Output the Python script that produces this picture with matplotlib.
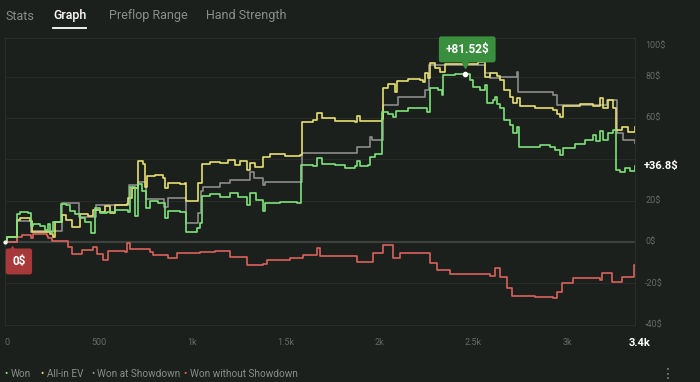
import matplotlib.pyplot as plt
from matplotlib.transforms import offset_copy

plt.rcParams['font.family'] = ['Roboto', 'DejaVu Sans']

# hands played vs. profit in $
won_x = [0, 11, 64, 80, 123, 139, 149, 187, 213, 229, 240, 256, 299, 325, 347, 374, 400, 427, 459, 480,
         507, 544, 587, 656, 667, 694, 710, 731, 752, 774, 816, 854, 870, 934, 966, 1024, 1040, 1051, 1094,
         1147, 1201, 1243, 1291, 1307, 1339, 1377, 1387, 1467, 1558, 1579, 1643, 1665, 1691, 1761, 1814,
         1868, 1878, 1894, 1937, 1948, 1974, 2012, 2044, 2070, 2086, 2150, 2214, 2252, 2268, 2310, 2332,
         2337, 2401, 2455, 2471, 2481, 2497, 2535, 2561, 2572, 2604, 2614, 2625, 2641, 2663, 2695, 2710,
         2732, 2743, 2801, 2855, 2908, 2935, 2961, 2977, 3041, 3095, 3138, 3153, 3175, 3191, 3217, 3244,
         3260, 3282, 3308, 3334, 3361]
won_y = [0, 2.2, 13.6, 14.3, 14.0, 7.7, 8.5, 7.7, 5.8, 8.7, 4.8, 9.7, 18.4, 17.9, 15.0, 13.6, 11.6, 9.7, 4.4, 16.5,
         14.0, 14.5, 15.5, 14.5, 26.6, 12.6, 28.1, 24.7, 16.5, 19.9, 18.9, 11.6, 15.0, 14.5, 4.8, 6.8, 9.2, 22.3, 23.2,
         21.8, 23.7, 21.8, 17.9, 23.7, 20.3, 15.0, 18.9, 19.4, 18.9, 37.3, 36.8, 40.7, 37.8, 37.3, 35.8,
         36.8, 39.2, 36.8, 37.3, 41.2, 42.6, 63.0, 62.0, 60.5, 63.4, 64.9, 64.9, 63.0, 74.6, 73.6, 71.2,
         80.9, 81.3, 81.52, 81.2, 78.5, 75.1, 73.6, 76.0, 67.3, 68.8, 70.2, 66.8, 64.9, 59.1, 56.7, 52.8,
         55.7, 46.0, 46.0, 47.0, 46.0, 44.6, 42.1, 45.5, 47.5, 49.4, 51.8, 48.9, 53.8, 49.4, 52.8, 54.2,
         34.9, 33.9, 35.8, 34.4, 36.8]

ev_x = [0, 11, 64, 80, 133, 144, 240, 256, 267, 304, 325, 358, 400, 443, 470, 507, 534, 560, 587, 651, 656,
        678, 710, 736, 747, 758, 800, 843, 854, 870, 934, 960, 966, 1024, 1030, 1051, 1094, 1147, 1190, 1227,
        1254, 1291, 1307, 1334, 1377, 1414, 1494, 1574, 1585, 1643, 1665, 1691, 1761, 1868, 1878, 1894, 2012,
        2017, 2044, 2081, 2092, 2150, 2214, 2230, 2241, 2257, 2268, 2294, 2321, 2348, 2524, 2561, 2588, 2625,
        2641, 2663, 2695, 2710, 2732, 2748, 2828, 2924, 2945, 2961, 2977, 3068, 3138, 3175, 3191, 3217, 3244,
        3260, 3292, 3324, 3361]
ev_y = [0, 2.2, 10.7, 11.6, 10.2, 4.8, 3.9, 2.4, 9.7, 13.1, 10.7, 7.3, 13.6, 12.6, 15.5, 14.5, 17.4, 14.0, 17.9, 18.4, 21.3,
        26.2, 39.2, 37.8, 26.6, 32.0, 32.4, 31.0, 26.2, 28.6, 28.1, 28.6, 19.9, 19.9, 28.6, 37.8, 38.7, 38.3, 39.7, 37.3,
        39.2, 34.9, 38.3, 36.3, 41.2, 42.6, 41.6, 42.1, 58.1, 59.1, 62.5, 60.1, 58.6, 58.1, 61.0, 58.6, 59.6,
        74.6, 76.5, 72.6, 78.0, 78.9, 78.5, 77.5, 81.8, 79.4, 86.7, 84.3, 82.3, 86.2, 87.2, 79.9, 81.8, 80.4,
        78.5, 73.6, 70.2, 67.3, 69.7, 65.9, 64.9, 63.9, 62.0, 60.5, 65.9, 66.8, 65.9, 69.7, 64.9, 68.8, 64.9,
        54.2, 55.7, 53.3, 55.7]

sd_x = [0, 53, 64, 139, 144, 304, 395, 486, 662, 710, 752, 849, 870, 966, 1030, 1046, 1056, 1147, 1201, 1307,
        1329, 1377, 1387, 1585, 1878, 1948, 1958, 2017, 2097, 2241, 2262, 2561, 2588, 2641, 2732, 2737, 2924,
        2945, 3212, 3265, 3297, 3361]
sd_y = [0, 0, 10.2, 4.8, 5.3, 18.9, 12.1, 17.9, 27.6, 29.1, 20.8, 17.0, 21.3, 9.2, 14.0, 24.7, 26.6, 28.6, 30.0, 33.9,
        31.0, 27.6, 29.1, 43.1, 46.0, 50.9, 49.4, 66.3, 70.2, 73.6, 85.7, 81.8, 79.4, 79.9, 82.3, 72.6, 71.2,
        66.3, 68.8, 52.8, 49.4, 47.9]

nsd_x = [0, 53, 64, 91, 139, 149, 224, 229, 251, 336, 358, 411, 470, 491, 523, 550, 640, 651, 667, 774, 790,
         870, 918, 1040, 1120, 1201, 1291, 1377, 1398, 1521, 1590, 1665, 1681, 1788, 1878, 1964, 2017, 2070,
         2108, 2161, 2268, 2305, 2374, 2481, 2588, 2614, 2641, 2679, 2705, 2828, 2924, 2945, 2972, 3031, 3175,
         3186, 3239, 3292, 3356, 3361]
nsd_y = [0, 0, 2.4, 3.4, 1.9, 3.9, 2.9, 1.9, 0.5, -2.4, -5.8, -3.9, -2.4, -5.8, -8.7, -4.4, -4.8, -0.5, -3.4, -4.8, -6.3,
         -7.7, -5.3, -4.8, -4.4, -7.3, -11.1, -10.7, -8.7, -7.7, -6.3, -2.9, -6.8, -6.8, -9.7, -5.3, -1.5, -7.7,
         -5.3, -5.3, -10.2, -13.6, -15.5, -15.5, -16.5, -12.6, -17.0, -22.3, -26.2, -26.6, -27.1, -24.2, -19.9, -17.4, -18.4,
         -15.0, -19.4, -17.0, -11.1, -11.1]

x_ticks = [0, 500, 1000, 1500, 2000, 2500, 3000]
x_labels = ['0', '500', '1k', '1.5k', '2k', '2.5k', '3k']
y_ticks = [-40, -20, 0, 20, 40, 60, 80, 100]
tabs = ['Stats', 'Graph', 'Preflop Range', 'Hand Strength']
legend_names = ['Won', 'All-in EV', 'Won at Showdown', 'Won without Showdown']

bg = '#1c201c'
c_won, c_ev, c_sd, c_nsd = '#7ee27a', '#e6df72', '#8c8c8c', '#d9625c'

fig = plt.figure(figsize=(7, 3.82), dpi=100, facecolor=bg)
ax = fig.add_axes([5 / 700, 57.4 / 382, 630 / 700, 287 / 382])
ax.set_facecolor(bg)
ax.set_xlim(0, 3361)
ax.set_ylim(-40, 99)

for v in y_ticks[1:-1]:
    if v == 0:
        ax.axhline(v, color='#3d413d', lw=1.6, zorder=1)
    else:
        ax.axhline(v, color='#282c28', lw=0.8, zorder=1)

ax.step(sd_x, sd_y, where='post', color=c_sd, lw=1.2, zorder=3)
ax.step(nsd_x, nsd_y, where='post', color=c_nsd, lw=1.2, zorder=3)
ax.step(ev_x, ev_y, where='post', color=c_ev, lw=1.2, zorder=4)
ax.step(won_x, won_y, where='post', color=c_won, lw=1.2, zorder=5)

for s in ax.spines.values():
    s.set_color('#2a2e2a')
    s.set_linewidth(0.8)
ax.set_xticks([])
ax.set_yticks([])

# y labels on the right (the one near the end value is hidden)
for v in y_ticks:
    if abs(v - won_y[-1]) < 8:
        continue
    yy = 95 if v == 100 else v
    ax.text(1.016, yy, f'{v}$', transform=ax.get_yaxis_transform(), color='#666966',
            fontsize=6.5, va='center', ha='left')

# x labels below
for v, lab in zip(x_ticks, x_labels):
    ax.annotate(lab, (v, -40), xytext=(1.5 if v == 0 else 0, -13), textcoords='offset points',
                color='#666966', fontsize=6.5, ha='center', va='center', annotation_clip=False)
ax.annotate('3.4k', (3361, -40), xytext=(3.5, -13), textcoords='offset points', color='white',
            fontsize=8, fontweight='bold', ha='center', va='center', annotation_clip=False)

# end value label
ax.annotate(f'+{won_y[-1]}$', (won_x[-1], won_y[-1]), xytext=(6.5, 0), textcoords='offset points',
            color='white', fontsize=8, fontweight='bold', ha='left', va='center', annotation_clip=False)

# peak tooltip
peak = won_y.index(max(won_y))
px, py = won_x[peak], won_y[peak]
ax.plot(px, py, 'o', color='white', ms=3, zorder=7)
ax.annotate(f'+{py}$', (px, py), xytext=(1.5, 17.5), textcoords='offset points', color='white',
            fontsize=8.5, fontweight='bold', ha='center', va='center', zorder=8,
            bbox=dict(boxstyle='round,pad=0.55,rounding_size=0.2', fc='#3a8f3e', ec='none'))
ax.plot(px, py, 'v', color='#3a8f3e', ms=5,
        transform=offset_copy(ax.transData, fig=fig, x=0, y=6, units='points'), zorder=8)

# start tooltip
ax.annotate('0$', (0, 0), xytext=(10, -14), textcoords='offset points', color='white',
            fontsize=8.5, fontweight='bold', ha='center', va='center', zorder=8, annotation_clip=False,
            bbox=dict(boxstyle='round,pad=0.55,rounding_size=0.2', fc='#a8393a', ec='none'))
ax.plot(0, 0, '^', color='#a8393a', ms=5, clip_on=False,
        transform=offset_copy(ax.transData, fig=fig, x=5, y=-5, units='points'), zorder=8)
ax.plot(0, 0, 'o', color='white', ms=2, clip_on=False, zorder=9)

# tabs
tab_x = [6, 53, 109, 206]
for t, x in zip(tabs, tab_x):
    fig.text(x / 700, 1 - 16 / 382, t, color='white' if t == 'Graph' else '#8a8d8a',
             fontsize=9, fontweight='medium' if t == 'Graph' else 'normal', ha='left', va='center')
fig.add_artist(plt.Line2D([53 / 700, 86 / 700], [1 - 28 / 382] * 2, color='white', lw=1.3))

# legend
leg_dot = [6, 42, 92.5, 185.5]
for name, col, x in zip(legend_names, [c_won, c_ev, c_sd, c_nsd], leg_dot):
    fig.text(x / 700, 1 - 374 / 382, '•', color=col, fontsize=7, ha='center', va='center')
    fig.text((x + 4.5) / 700, 1 - 374 / 382, name, color='#8a8d8a', fontsize=7.2, ha='left', va='center')
fig.text(668 / 700, 1 - 374 / 382, '⋮', color='#8a8d8a', fontsize=10, ha='center', va='center',
         family='DejaVu Sans')

fig.savefig('out.png', dpi=100, facecolor=bg)
